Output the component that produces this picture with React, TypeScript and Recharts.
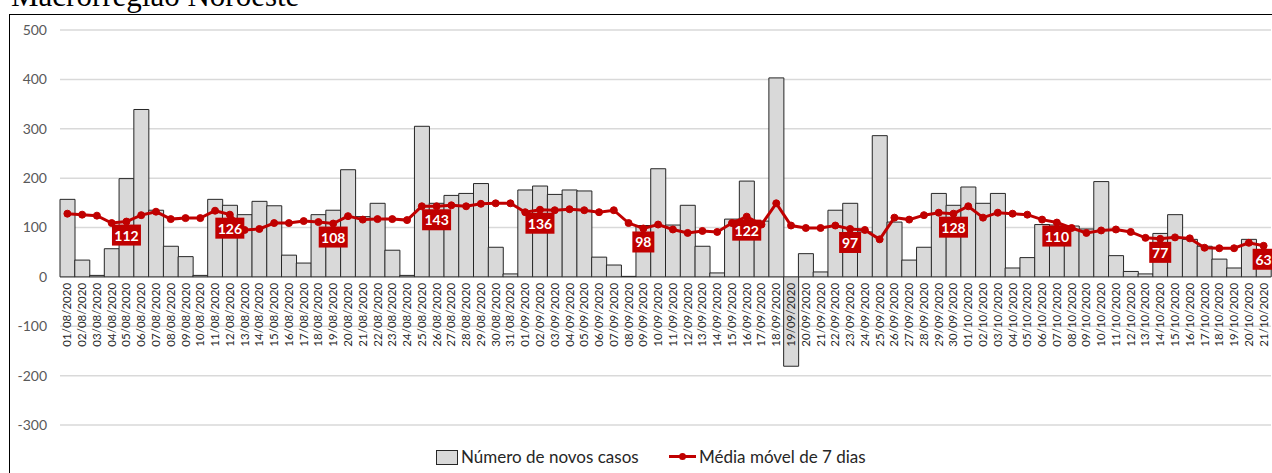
import React from 'react';
import { ComposedChart, Bar, Line, XAxis, YAxis, CartesianGrid, LabelList } from 'recharts';

const dias = [
  '01/08/2020', '02/08/2020', '03/08/2020', '04/08/2020', '05/08/2020', '06/08/2020', '07/08/2020',
  '08/08/2020', '09/08/2020', '10/08/2020', '11/08/2020', '12/08/2020', '13/08/2020', '14/08/2020',
  '15/08/2020', '16/08/2020', '17/08/2020', '18/08/2020', '19/08/2020', '20/08/2020', '21/08/2020',
  '22/08/2020', '23/08/2020', '24/08/2020', '25/08/2020', '26/08/2020', '27/08/2020', '28/08/2020',
  '29/08/2020', '30/08/2020', '31/08/2020', '01/09/2020', '02/09/2020', '03/09/2020', '04/09/2020',
  '05/09/2020', '06/09/2020', '07/09/2020', '08/09/2020', '09/09/2020', '10/09/2020', '11/09/2020',
  '12/09/2020', '13/09/2020', '14/09/2020', '15/09/2020', '16/09/2020', '17/09/2020', '18/09/2020',
  '19/09/2020', '20/09/2020', '21/09/2020', '22/09/2020', '23/09/2020', '24/09/2020', '25/09/2020',
  '26/09/2020', '27/09/2020', '28/09/2020', '29/09/2020', '30/09/2020', '01/10/2020', '02/10/2020',
  '03/10/2020', '04/10/2020', '05/10/2020', '06/10/2020', '07/10/2020', '08/10/2020', '09/10/2020',
  '10/10/2020', '11/10/2020', '12/10/2020', '13/10/2020', '14/10/2020', '15/10/2020', '16/10/2020',
  '17/10/2020', '18/10/2020', '19/10/2020', '20/10/2020', '21/10/2020',
];

const novosCasos = [
  157, 34, 3, 57, 199, 339, 135, 62, 41, 3, 157, 145, 126, 153, 144, 44, 28, 126, 135, 217, 122,
  149, 54, 3, 305, 149, 165, 169, 189, 60, 6, 176, 184, 167, 176, 174, 40, 24, 1, 104, 219, 105,
  145, 62, 8, 117, 194, 113, 403, -181, 47, 10, 135, 149, 91, 286, 111, 34, 60, 169, 145, 182, 149,
  169, 18, 39, 106, 105, 103, 97, 193, 43, 11, 6, 88, 126, 76, 62, 36, 18, 76, 50,
];

const mediaMovel = [
  128, 126, 124, 109, 112, 125, 132, 117, 119, 119, 134, 126, 95, 97, 109, 109, 113, 111, 108, 123, 116,
  117, 117, 115, 143, 143, 145, 143, 148, 149, 149, 131, 136, 135, 137, 135, 131, 135, 109, 98, 106, 96,
  89, 93, 91, 109, 122, 106, 149, 104, 99, 99, 104, 97, 95, 76, 120, 116, 125, 130, 128, 143, 120, 130,
  128, 126, 116, 110, 99, 89, 94, 96, 91, 79, 77, 80, 78, 59, 58, 58, 69, 63,
];

// dias com rótulo da média (um por semana, até o último dia)
const diasRotulados = [4, 11, 18, 25, 32, 39, 46, 53, 60, 67, 74, 81];

const yTicks = [-300, -200, -100, 0, 100, 200, 300, 400, 500];

const data = dias.map((dia, i) => ({
  dia,
  casos: novosCasos[i],
  media: mediaMovel[i],
  rotulo: diasRotulados.includes(i) ? mediaMovel[i] : null,
}));

const W = 1300;
const H = 473;
const TOP = 30;
const BOTTOM = 48;
const PLOT_H = H - TOP - BOTTOM;
const ZERO_Y = TOP + (PLOT_H * 500) / 800;
const VERMELHO = '#C00000';
const FONTE = 'Lato, "Open Sans", sans-serif';

function DiaTick({ x, payload }: any) {
  return (
    <text
      transform={`translate(${x + 4},${ZERO_Y + 6}) rotate(-90)`}
      textAnchor="end"
      fontSize={11.5}
      fontFamily={FONTE}
      fill="#262626"
    >
      {payload.value}
    </text>
  );
}

function RotuloMedia({ x, y, value }: any) {
  if (value == null) return null;
  const txt = String(value);
  const w = txt.length > 2 ? 29 : 22;
  return (
    <g>
      <rect x={x - w / 2} y={y + 3} width={w} height={21} fill={VERMELHO} />
      <text
        x={x}
        y={y + 19}
        textAnchor="middle"
        fontSize={14}
        fontWeight={700}
        fontFamily={FONTE}
        fill="#fff"
      >
        {txt}
      </text>
    </g>
  );
}

export default function App() {
  return (
    <div style={{ position: 'absolute', left: 0, top: 0, width: 1272, height: 473, overflow: 'hidden', background: '#fff' }}>
      <div
        style={{
          position: 'absolute',
          left: 11,
          top: -20,
          fontFamily: '"Liberation Serif", "DejaVu Serif", serif',
          fontSize: 31,
          lineHeight: '31px',
          whiteSpace: 'nowrap',
          color: '#000',
        }}
      >
        Macrorregião Noroeste
      </div>
      <div
        style={{
          position: 'absolute',
          left: 9,
          top: 14,
          width: 1320,
          height: 520,
          border: '1px solid #000',
        }}
      />
      <div style={{ position: 'absolute', left: 0, top: 0 }}>
        <ComposedChart
          width={W}
          height={H}
          data={data}
          margin={{ top: TOP, right: 29, left: 0, bottom: BOTTOM - 8 }}
          barCategoryGap={0}
          barGap={0}
        >
          <CartesianGrid vertical={false} stroke="#D9D9D9" strokeWidth={1.5} />
          <YAxis
            domain={[-300, 500]}
            ticks={yTicks}
            width={60}
            axisLine={false}
            tickLine={false}
            tickSize={0}
            tickMargin={13}
            tick={{ fill: '#595959', fontSize: 14, fontFamily: FONTE }}
          />
          <Bar dataKey="casos" fill="#D9D9D9" stroke="#262626" strokeWidth={1} isAnimationActive={false} />
          <Line
            dataKey="media"
            stroke={VERMELHO}
            strokeWidth={3}
            dot={{ r: 3.5, fill: VERMELHO, stroke: VERMELHO, strokeWidth: 1 }}
            isAnimationActive={false}
          >
            <LabelList dataKey="rotulo" content={RotuloMedia} />
          </Line>
          <XAxis
            dataKey="dia"
            height={8}
            axisLine={false}
            tickLine={false}
            interval={0}
            tick={DiaTick}
          />
        </ComposedChart>
      </div>
      <div style={{ position: 'absolute', left: 436, top: 450, width: 20, height: 13, background: '#D9D9D9', border: '1px solid #262626' }} />
      <div style={{ position: 'absolute', left: 461, top: 446, fontFamily: FONTE, fontSize: 17, lineHeight: '22px', color: '#262626', whiteSpace: 'nowrap' }}>
        Número de novos casos
      </div>
      <div style={{ position: 'absolute', left: 669, top: 455, width: 27, height: 3, background: VERMELHO }} />
      <div style={{ position: 'absolute', left: 679, top: 453, width: 7, height: 7, borderRadius: '50%', background: VERMELHO }} />
      <div style={{ position: 'absolute', left: 699, top: 446, fontFamily: FONTE, fontSize: 17, lineHeight: '22px', color: '#262626', whiteSpace: 'nowrap' }}>
        Média móvel de 7 dias
      </div>
    </div>
  );
}
